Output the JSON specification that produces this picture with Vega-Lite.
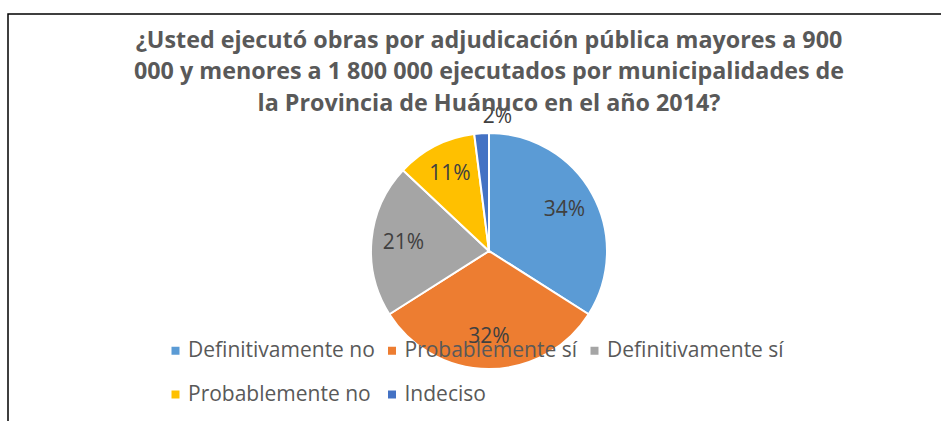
{
  "$schema": "https://vega.github.io/schema/vega-lite/v6.json",
  "width": 962,
  "height": 474,
  "autosize": {"type": "none"},
  "padding": {"left": 8, "top": 14, "right": -29, "bottom": -67},
  "background": "white",
  "title": {
    "text": ["¿Usted ejecutó obras por adjudicación pública mayores a 900", "000 y menores a 1 800 000 ejecutados por municipalidades de", "la Provincia de Huánuco en el año 2014?"],
    "anchor": "middle",
    "orient": "top",
    "baseline": "top",
    "offset": -103,
    "font": "Open Sans",
    "fontSize": 23.3,
    "fontWeight": "bold",
    "color": "#595959",
    "lineHeight": 31.5
  },
  "config": {
    "view": {"stroke": null, "fill": "white"}
  },
  "layer": [
    {
      "data": {"values": [{"marco": "borde"}]},
      "mark": {"type": "rect", "fill": null, "stroke": "#000000", "strokeWidth": 1.5},
      "encoding": {
        "x": {"value": 0},
        "x2": {"value": "width"},
        "y": {"value": 0},
        "y2": {"value": "height"}
      }
    },
    {
      "data": {"name": "respuestas"},
      "layer": [
        {
          "mark": {"type": "arc", "outerRadius": 118, "stroke": "white", "strokeWidth": 2},
          "encoding": {
            "theta": {"field": "porcentaje", "type": "quantitative", "stack": true},
            "order": {"field": "orden", "type": "quantitative"},
            "color": {
              "field": "respuesta",
              "type": "nominal",
              "sort": null,
              "scale": {
                "domain": ["Definitivamente no", "Probablemente sí", "Definitivamente sí", "Probablemente no", "Indeciso"],
                "range": ["#5B9BD5", "#ED7D31", "#A5A5A5", "#FFC000", "#4472C4"]
              },
              "legend": {
                "title": null,
                "orient": "none",
                "direction": "horizontal",
                "columns": 3,
                "legendX": 157,
                "legendY": 326,
                "padding": 0,
                "symbolType": "square",
                "symbolSize": 64,
                "symbolStrokeWidth": 0,
                "labelFont": "Open Sans",
                "labelFontSize": 21,
                "labelColor": "#595959",
                "labelOffset": 2,
                "columnPadding": 6.5,
                "rowPadding": 22,
                "labelLimit": 400
              }
            }
          }
        },
        {
          "transform": [{"filter": "datum.orden < 5"}],
          "mark": {"type": "text", "radius": 86, "font": "Open Sans", "fontSize": 21, "color": "#404040"},
          "encoding": {
            "theta": {"field": "porcentaje", "type": "quantitative", "stack": true},
            "order": {"field": "orden", "type": "quantitative"},
            "text": {"field": "porcentaje", "type": "quantitative", "format": ".0%"}
          }
        },
        {
          "transform": [{"filter": "datum.orden == 5"}],
          "mark": {"type": "text", "radius": 134, "font": "Open Sans", "fontSize": 21, "color": "#404040"},
          "encoding": {
            "theta": {"field": "porcentaje", "type": "quantitative", "stack": true},
            "order": {"field": "orden", "type": "quantitative"},
            "text": {"field": "porcentaje", "type": "quantitative", "format": ".0%"}
          }
        }
      ]
    }
  ],
  "datasets": {
    "respuestas": [
      {"respuesta": "Definitivamente no", "porcentaje": 0.34, "orden": 1},
      {"respuesta": "Probablemente sí", "porcentaje": 0.32, "orden": 2},
      {"respuesta": "Definitivamente sí", "porcentaje": 0.21, "orden": 3},
      {"respuesta": "Probablemente no", "porcentaje": 0.11, "orden": 4},
      {"respuesta": "Indeciso", "porcentaje": 0.02, "orden": 5}
    ]
  }
}
